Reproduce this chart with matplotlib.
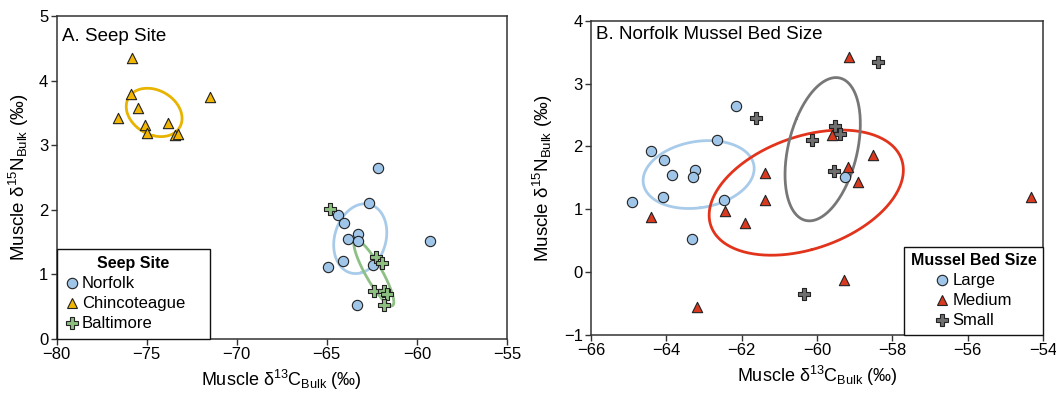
import numpy as np
import matplotlib
matplotlib.use("Agg")
import matplotlib.pyplot as plt
from matplotlib.lines import Line2D

plt.rcParams['font.family'] = ['Liberation Sans', 'DejaVu Sans']
plt.rcParams['mathtext.fontset'] = 'custom'
plt.rcParams['mathtext.rm'] = 'Liberation Sans'
plt.rcParams['mathtext.it'] = 'Liberation Sans'
plt.rcParams['mathtext.default'] = 'regular'

# ---------------- Data ----------------
# Panel A: Seep site
norfolk_x = [-64.92, -64.40, -64.07, -63.85, -63.25, -63.28, -64.10, -62.65, -62.16, -62.46, -63.33, -59.25]
norfolk_y = [1.12, 1.92, 1.79, 1.54, 1.62, 1.51, 1.20, 2.10, 2.64, 1.14, 0.53, 1.52]
chinco_x = [-75.84, -75.85, -75.50, -76.57, -75.10, -75.00, -73.83, -73.45, -73.27, -71.48]
chinco_y = [4.35, 3.80, 3.57, 3.42, 3.31, 3.19, 3.34, 3.16, 3.18, 3.75]
balt_x = [-64.83, -62.29, -61.94, -62.38, -61.80, -61.63, -61.85]
balt_y = [2.01, 1.27, 1.175, 0.75, 0.75, 0.69, 0.52]

# Panel B: Norfolk mussel bed size
large_x = norfolk_x
large_y = norfolk_y
medium_x = [-59.15, -59.61, -58.51, -59.17, -58.91, -61.39, -61.39, -62.45, -61.92, -64.42, -59.29, -63.18, -54.33]
medium_y = [3.43, 2.18, 1.87, 1.67, 1.44, 1.57, 1.14, 0.97, 0.78, 0.88, -0.125, -0.55, 1.19]
small_x = [-58.38, -61.61, -59.52, -59.39, -60.14, -59.56, -60.35]
small_y = [3.35, 2.45, 2.33, 2.19, 2.10, 1.61, -0.34]

# Colours
c_blue = '#9fc5e8'
c_yellow = '#f3b600'
c_green = '#8cbf80'
c_red = '#d93a1f'
c_grey = '#6f6f70'
ec_blue = '#a8cbea'
ec_yellow = '#e8b400'
ec_green = '#8ec085'
ec_red = '#e2341c'
ec_grey = '#777777'


def std_ellipse(ax, x, y, color, lw=2.0):
    x = np.asarray(x)
    y = np.asarray(y)
    cov = np.cov(x, y, ddof=1)
    vals, vecs = np.linalg.eigh(cov)
    t = np.linspace(0, 2 * np.pi, 300)
    circ = np.vstack([np.cos(t), np.sin(t)])
    pts = vecs @ (np.sqrt(vals)[:, None] * circ)
    ax.plot(x.mean() + pts[0], y.mean() + pts[1], color=color, lw=lw, zorder=2,
            solid_capstyle='round')


fig = plt.figure(figsize=(10.56, 3.96), dpi=100)
axA = fig.add_axes([0.0537, 0.144, 0.4263, 0.8156])
axB = fig.add_axes([0.5597, 0.154, 0.4280, 0.7937])

spine_c = '#333333'
for ax in (axA, axB):
    for s in ax.spines.values():
        s.set_color(spine_c)
        s.set_linewidth(1.1)
    ax.tick_params(direction='out', length=4, width=1.0, color=spine_c,
                   labelsize=12, pad=2)

mk = dict(edgecolors='#222222', linewidths=0.8, zorder=3)
S = 55

lab_x = 'Muscle δ$^{13}$C$_{Bulk}$ (‰)'
lab_y = 'Muscle δ$^{15}$N$_{Bulk}$ (‰)'

# ---- Panel A ----
std_ellipse(axA, norfolk_x, norfolk_y, ec_blue)
std_ellipse(axA, chinco_x, chinco_y, ec_yellow)
std_ellipse(axA, balt_x, balt_y, ec_green)
axA.scatter(norfolk_x, norfolk_y, s=S, marker='o', c=c_blue, **mk)
axA.scatter(chinco_x, chinco_y, s=S, marker='^', c=c_yellow, **mk)
axA.scatter(balt_x, balt_y, s=S * 1.3, marker='P', c=c_green, **mk)

axA.set_xlim(-80, -55)
axA.set_ylim(0, 5)
axA.set_xticks([-80, -75, -70, -65, -60, -55])
axA.set_yticks([0, 1, 2, 3, 4, 5])
axA.set_xlabel(lab_x, fontsize=13, labelpad=4)
axA.set_ylabel(lab_y, fontsize=13.5, labelpad=6)
axA.text(0.012, 0.935, 'A. Seep Site', transform=axA.transAxes, fontsize=13.5,
         ha='left', va='center')

hA = [Line2D([], [], ls='none', marker='o', ms=7.5, mfc=c_blue, mec='#222222', mew=0.8),
      Line2D([], [], ls='none', marker='^', ms=7.5, mfc=c_yellow, mec='#222222', mew=0.8),
      Line2D([], [], ls='none', marker='P', ms=8.5, mfc=c_green, mec='#222222', mew=0.8)]
legA = axA.legend(hA, ['Norfolk', 'Chincoteague', 'Baltimore'], title='Seep Site',
                  loc='lower left', bbox_to_anchor=(0, 0, 0.34, 0.3), mode='expand',
                  borderaxespad=0,
                  fontsize=12, title_fontsize=11.5, fancybox=False, framealpha=1,
                  edgecolor='#111111', handlelength=0.9, handletextpad=0.15,
                  labelspacing=0.3, borderpad=0.45)
legA.get_title().set_fontweight('bold')
legA.get_frame().set_linewidth(1.0)

# ---- Panel B ----
std_ellipse(axB, large_x, large_y, ec_blue)
std_ellipse(axB, medium_x, medium_y, ec_red)
std_ellipse(axB, small_x, small_y, ec_grey)
axB.scatter(small_x, small_y, s=S * 1.3, marker='P', c=c_grey, **mk)
axB.scatter(medium_x, medium_y, s=S, marker='^', c=c_red, **mk)
axB.scatter(large_x, large_y, s=S, marker='o', c=c_blue, **mk)

axB.set_xlim(-66, -54)
axB.set_ylim(-1, 4)
axB.set_xticks([-66, -64, -62, -60, -58, -56, -54])
axB.set_yticks([-1, 0, 1, 2, 3, 4])
axB.set_xlabel(lab_x, fontsize=13, labelpad=4)
axB.set_ylabel(lab_y, fontsize=13.5, labelpad=6)
axB.text(0.012, 0.955, 'B. Norfolk Mussel Bed Size', transform=axB.transAxes,
         fontsize=13.5, ha='left', va='center')

hB = [Line2D([], [], ls='none', marker='o', ms=7.5, mfc=c_blue, mec='#222222', mew=0.8),
      Line2D([], [], ls='none', marker='^', ms=7.5, mfc=c_red, mec='#222222', mew=0.8),
      Line2D([], [], ls='none', marker='P', ms=8.5, mfc=c_grey, mec='#222222', mew=0.8)]
legB = axB.legend(hB, ['Large', 'Medium', 'Small'], title='Mussel Bed Size',
                  loc='lower right', bbox_to_anchor=(1, 0), borderaxespad=0,
                  fontsize=12, title_fontsize=11.5, fancybox=False, framealpha=1,
                  edgecolor='#111111', handlelength=0.9, handletextpad=0.15,
                  labelspacing=0.3, borderpad=0.4)
legB.get_title().set_fontweight('bold')
legB.get_frame().set_linewidth(1.0)

fig.savefig('out.png', dpi=100)
